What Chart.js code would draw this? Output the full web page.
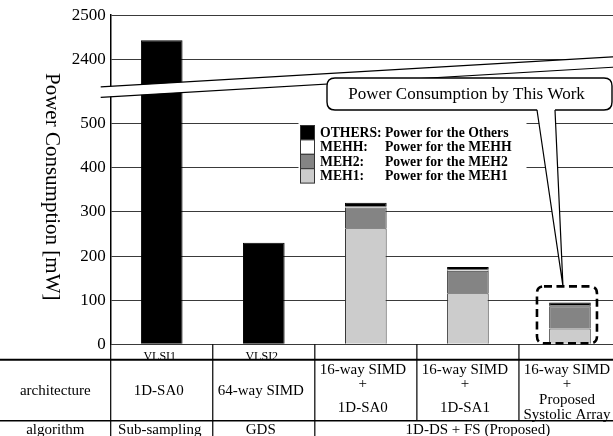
<!DOCTYPE html>
<html>
<head>
<meta charset="utf-8">
<script src="https://cdn.jsdelivr.net/npm/chart.js@4/dist/chart.umd.min.js"></script>
<style>
  html, body { margin: 0; padding: 0; background: #fff; overflow: hidden; }
  #wrap { width: 621px; height: 436px; }
</style>
</head>
<body>
<div id="wrap"><canvas id="chart" width="621" height="436"></canvas></div>
<script>
// ---- data ----
const CATEGORIES = ['VLSI1', 'VLSI2', '', '', ''];
const MEH1   = [null, null, 263, 116, 36];
const MEH2   = [null, null, 47, 51, 50];
const MEHH   = [null, null, 3, 2, 3];
const OTHERS = [2443, 230, 8, 6, 6];

const Y_TICKS = [0, 100, 200, 300, 400, 500, 2400, 2500];
// values between these two are cut out of the axis
const BREAK_FROM = 573;
const BREAK_TO = 2327;

const LEGEND_KEYS = ['MEH1:', 'MEH2:', 'MEHH:', 'OTHERS:'];
const LEGEND_TEXT = ['Power for the MEH1', 'Power for the MEH2', 'Power for the MEHH', 'Power for the Others'];

const ROW_HEADERS = ['architecture', 'algorithm'];
const ARCHITECTURE = [
  ['1D-SA0'],
  ['64-way SIMD'],
  ['16-way SIMD', '+', '1D-SA0'],
  ['16-way SIMD', '+', '1D-SA1'],
  ['16-way SIMD', '+', 'Proposed', 'Systolic Array']
];
// the last entry spans the three proposed columns
const ALGORITHM = ['Sub-sampling', 'GDS', '1D-DS + FS (Proposed)'];
const CALLOUT_TEXT = 'Power Consumption by This Work';
const Y_TITLE = 'Power Consumption [mW]';

const SERIF = "'Liberation Serif', 'Times New Roman', serif";

// ---- linear scale with a cut-out range ----
class BrokenLinearScale extends Chart.LinearScale {
  _shift(v) {
    if (v <= BREAK_FROM) return v;
    if (v >= BREAK_TO) return v - (BREAK_TO - BREAK_FROM);
    return BREAK_FROM;
  }
  getPixelForValue(value) {
    if (value === null || value === undefined || isNaN(value)) return NaN;
    return this.getPixelForDecimal(this._shift(value) / this._shift(this.max));
  }
  getValueForPixel(pixel) {
    const e = this.getDecimalForPixel(pixel) * this._shift(this.max);
    return e <= BREAK_FROM ? e : e + (BREAK_TO - BREAK_FROM);
  }
}
BrokenLinearScale.id = 'brokenLinear';
BrokenLinearScale.defaults = Chart.LinearScale.defaults;
Chart.register(BrokenLinearScale);

// ---- plugins ----
const yTitlePlugin = {
  id: 'yTitle',
  afterDraw(chart) {
    const { ctx, chartArea } = chart;
    ctx.save();
    ctx.translate(52, (chartArea.top + chartArea.bottom) / 2 + 7);
    ctx.rotate(Math.PI / 2);
    ctx.font = `21px ${SERIF}`;
    ctx.fillStyle = '#000';
    ctx.textAlign = 'center';
    ctx.textBaseline = 'middle';
    ctx.fillText(Y_TITLE, 0, 0);
    ctx.restore();
  }
};

const axisBreakPlugin = {
  id: 'axisBreak',
  afterDraw(chart) {
    const { ctx, chartArea } = chart;
    const y = chart.scales.y;
    const yc = y.getPixelForValue(BREAK_FROM);
    const slope = -0.0587, half = 5.2;
    const x0 = chartArea.left - 10, x1 = chart.width;
    const yAt = x => yc + slope * (x - chartArea.left);
    ctx.save();
    ctx.fillStyle = '#fff';
    ctx.beginPath();
    ctx.moveTo(x0, yAt(x0) - half);
    ctx.lineTo(x1, yAt(x1) - half);
    ctx.lineTo(x1, yAt(x1) + half);
    ctx.lineTo(x0, yAt(x0) + half);
    ctx.closePath();
    ctx.fill();
    ctx.strokeStyle = '#000';
    ctx.lineWidth = 1.2;
    ctx.beginPath();
    ctx.moveTo(x0, yAt(x0) - half); ctx.lineTo(x1, yAt(x1) - half);
    ctx.moveTo(x0, yAt(x0) + half); ctx.lineTo(x1, yAt(x1) + half);
    ctx.stroke();
    ctx.restore();
  }
};

const legendPlugin = {
  id: 'sideLegend',
  afterDraw(chart) {
    const { ctx } = chart;
    const ds = chart.data.datasets.slice().reverse();
    const left = 300.5, top = 125.5, box = 14, pitch = 14.4;
    ctx.save();
    ctx.fillStyle = '#fff';
    ctx.fillRect(left - 2, top - 6, 228, ds.length * pitch + 10);
    ctx.font = `bold 13.7px ${SERIF}`;
    ctx.textBaseline = 'middle';
    ds.forEach((d, i) => {
      const yy = top + i * pitch;
      ctx.fillStyle = d.backgroundColor;
      ctx.fillRect(left, yy, box, pitch);
      ctx.strokeStyle = '#333';
      ctx.lineWidth = 1;
      ctx.strokeRect(left, yy, box, pitch);
      ctx.fillStyle = '#000';
      ctx.textAlign = 'left';
      ctx.fillText(d.label, left + 19.5, yy + pitch / 2 + 0.5);
      ctx.fillText(d.description, left + 84.5, yy + pitch / 2 + 0.5);
    });
    ctx.restore();
  }
};

function roundRect(ctx, x, y, w, h, r) {
  ctx.beginPath();
  ctx.moveTo(x + r, y);
  ctx.lineTo(x + w - r, y);
  ctx.quadraticCurveTo(x + w, y, x + w, y + r);
  ctx.lineTo(x + w, y + h - r);
  ctx.quadraticCurveTo(x + w, y + h, x + w - r, y + h);
  ctx.lineTo(x + r, y + h);
  ctx.quadraticCurveTo(x, y + h, x, y + h - r);
  ctx.lineTo(x, y + r);
  ctx.quadraticCurveTo(x, y, x + r, y);
  ctx.closePath();
}

const calloutPlugin = {
  id: 'callout',
  afterDraw(chart) {
    const { ctx, chartArea } = chart;
    const last = CATEGORIES.length - 1;
    const topEl = chart.getDatasetMeta(chart.data.datasets.length - 1).data[last];
    // dashed frame round the highlighted bar
    const fx0 = topEl.x - 33, fx1 = topEl.x + 27;
    const fy0 = topEl.y - 16, fy1 = chartArea.bottom - 1;
    ctx.save();
    ctx.strokeStyle = '#000';
    ctx.lineWidth = 2.6;
    ctx.setLineDash([8, 4.5]);
    roundRect(ctx, fx0, fy0, fx1 - fx0, fy1 - fy0, 7);
    ctx.stroke();
    ctx.setLineDash([]);

    // speech box
    const bx = 327, by = 78, bw = 285, bh = 32;
    ctx.fillStyle = '#fff';
    ctx.lineWidth = 1.4;
    roundRect(ctx, bx, by, bw, bh, 8);
    ctx.fill();
    ctx.stroke();
    const tipX = topEl.x - 7, tipY = fy0;
    const t0 = 537, t1 = 555;
    ctx.beginPath();
    ctx.moveTo(t0, by + bh - 1.5);
    ctx.lineTo(tipX, tipY);
    ctx.lineTo(t1, by + bh - 1.5);
    ctx.closePath();
    ctx.fill();
    ctx.lineWidth = 1.2;
    ctx.beginPath();
    ctx.moveTo(t0, by + bh);
    ctx.lineTo(tipX, tipY);
    ctx.lineTo(t1, by + bh);
    ctx.stroke();
    ctx.fillStyle = '#000';
    ctx.font = `17px ${SERIF}`;
    ctx.textAlign = 'center';
    ctx.textBaseline = 'middle';
    ctx.fillText(CALLOUT_TEXT, bx + bw / 2 - 3, by + bh / 2 + 1);
    ctx.restore();
  }
};

const tablePlugin = {
  id: 'specTable',
  afterDraw(chart) {
    const { ctx, chartArea } = chart;
    const x = chart.scales.x;
    const n = CATEGORIES.length;
    const colW = (chartArea.right - chartArea.left) / n;
    const edge = i => chartArea.left + i * colW;
    const r0 = chartArea.bottom, r1 = r0 + 15, r2 = r1 + 61.5, r3 = chart.height;
    ctx.save();
    ctx.fillStyle = '#000';
    ctx.textAlign = 'center';

    // category names under the bars
    ctx.font = `12px ${SERIF}`;
    ctx.textBaseline = 'alphabetic';
    CATEGORIES.forEach((c, i) => ctx.fillText(c, x.getPixelForValue(i) - 2, r1 + 0.5));

    // architecture row
    ctx.font = `15px ${SERIF}`;
    ctx.textBaseline = 'middle';
    const layouts = { 1: [391], 3: [370, 384, 408], 4: [370, 384.5, 400, 415] };
    ARCHITECTURE.forEach((lines, i) => {
      const cx = x.getPixelForValue(i) - 3;
      lines.forEach((t, k) => ctx.fillText(t, cx, layouts[lines.length][k]));
    });
    ctx.fillText(ROW_HEADERS[0], chartArea.left / 2, 391);

    // algorithm row
    ctx.fillText(ROW_HEADERS[1], chartArea.left / 2, 430);
    ctx.fillText(ALGORITHM[0], x.getPixelForValue(0) - 2, 430);
    ctx.fillText(ALGORITHM[1], x.getPixelForValue(1) - 3, 430);
    ctx.fillText(ALGORITHM[2], (edge(2) + edge(n)) / 2 + 10, 430);

    // rules
    ctx.strokeStyle = '#000';
    ctx.lineWidth = 2;
    ctx.beginPath();
    ctx.moveTo(0, r1 + 0.5); ctx.lineTo(chart.width, r1 + 0.5);
    ctx.stroke();
    ctx.lineWidth = 1.5;
    ctx.beginPath();
    ctx.moveTo(0, r2); ctx.lineTo(chart.width, r2);
    ctx.stroke();
    ctx.lineWidth = 1.2;
    ctx.beginPath();
    for (let i = 0; i < n; i++) {
      const ex = edge(i);
      const bottom = i <= 2 ? r3 : r2;
      ctx.moveTo(ex, r0); ctx.lineTo(ex, bottom);
    }
    ctx.stroke();
    ctx.restore();
  }
};

// ---- chart ----
const barStyle = { borderColor: '#333', borderWidth: 1, borderSkipped: 'start' };
new Chart(document.getElementById('chart'), {
  type: 'bar',
  data: {
    labels: CATEGORIES,
    datasets: [
      { label: LEGEND_KEYS[0], description: LEGEND_TEXT[0], data: MEH1, backgroundColor: '#cccccc', ...barStyle },
      { label: LEGEND_KEYS[1], description: LEGEND_TEXT[1], data: MEH2, backgroundColor: '#848484', ...barStyle },
      { label: LEGEND_KEYS[2], description: LEGEND_TEXT[2], data: MEHH, backgroundColor: '#ffffff', ...barStyle },
      { label: LEGEND_KEYS[3], description: LEGEND_TEXT[3], data: OTHERS, backgroundColor: '#000000', borderColor: '#000', borderWidth: 1 }
    ]
  },
  options: {
    responsive: false,
    animation: false,
    devicePixelRatio: 1,
    layout: { padding: { top: 13.3, bottom: 91.7, left: 0, right: 0 } },
    datasets: { bar: { barPercentage: 0.408, categoryPercentage: 1 } },
    plugins: { legend: { display: false }, tooltip: { enabled: false } },
    scales: {
      x: { display: false, stacked: true },
      y: {
        type: 'brokenLinear',
        stacked: true,
        min: 0,
        max: 2500,
        afterBuildTicks: scale => { scale.ticks = Y_TICKS.map(v => ({ value: v })); },
        afterFit: scale => { scale.width = 110.7; },
        ticks: {
          autoSkip: false,
          padding: 5,
          color: '#000',
          font: { family: SERIF, size: 17 },
          callback: v => String(v)
        },
        grid: { color: '#3a3a3a', lineWidth: 1, drawTicks: false },
        border: { display: true, color: '#000', width: 1.5 }
      }
    }
  },
  plugins: [yTitlePlugin, axisBreakPlugin, legendPlugin, calloutPlugin, tablePlugin]
});
</script>
</body>
</html>
